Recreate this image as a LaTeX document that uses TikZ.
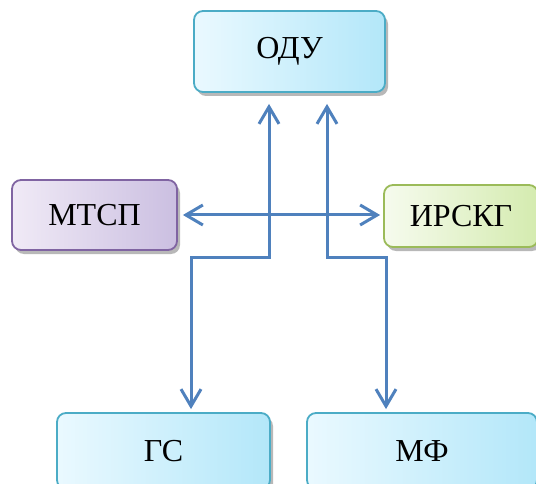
\documentclass[tikz,border=0pt]{standalone}
\usepackage{fontspec}
\setmainfont{Liberation Serif}
\usetikzlibrary{arrows.meta,shadows}

\definecolor{linkblue}{HTML}{4F81BD}
\definecolor{cyanline}{HTML}{4BACC6}
\definecolor{cyanlo}{HTML}{EAF9FF}
\definecolor{cyanhi}{HTML}{B3E7F9}
\definecolor{violine}{HTML}{8064A2}
\definecolor{violo}{HTML}{F0EAF6}
\definecolor{violhi}{HTML}{CBBFE1}
\definecolor{greenline}{HTML}{9BBB59}
\definecolor{greenlo}{HTML}{F6FBEE}
\definecolor{greenhi}{HTML}{D4EBAF}

\tikzset{
	box/.style={rounded corners=9pt, line width=1.8pt, inner sep=0pt,
		font=\fontsize{32}{36}\selectfont,
		drop shadow={shadow xshift=3pt, shadow yshift=-4pt, fill=black!55}},
	cyanbox/.style={box, draw=cyanline, left color=cyanlo, right color=cyanhi},
	violbox/.style={box, draw=violine, left color=violo, right color=violhi},
	greenbox/.style={box, draw=greenline, left color=greenlo, right color=greenhi},
	link/.style={draw=linkblue, line width=3pt,
		{Straight Barb[length=17pt,width=20pt]}-{Straight Barb[length=17pt,width=20pt]}}
}

\begin{document}
\begin{tikzpicture}[x=1pt,y=-1pt]

\fill[white] (0,0) rectangle (536,484);
\useasboundingbox (0,0) rectangle (536,484);

\node[cyanbox, minimum width=191pt, minimum height=81pt] (odu) at (289.5,51.5) {ОДУ};
\node[violbox, minimum width=165pt, minimum height=70pt] (mtsp) at (94.5,215) {МТСП};
\node[greenbox, minimum width=154pt, minimum height=62pt] (irskg) at (461,216) {ИРСКГ};
\node[cyanbox, minimum width=213pt, minimum height=76pt] (gs) at (163.5,451) {ГС};
\node[cyanbox, minimum width=230pt, minimum height=76pt] (mf) at (422,451) {МФ};

% bends of the two lines
\coordinate (jl) at (269,257);
\coordinate (jr) at (327,257);
\coordinate (gsx) at (191,0);
\coordinate (mfx) at (386,0);

\draw[link, shorten <=11pt, shorten >=3pt] (odu.south -| jl) -- (jl) -| (gsx |- gs.north);
\draw[link, shorten <=11pt, shorten >=3pt] (odu.south -| jr) -- (jr) -| (mfx |- mf.north);

\draw[link, shorten <=5pt, shorten >=3pt] (mtsp.east) -- (mtsp.east -| irskg.west);

\end{tikzpicture}
\end{document}
